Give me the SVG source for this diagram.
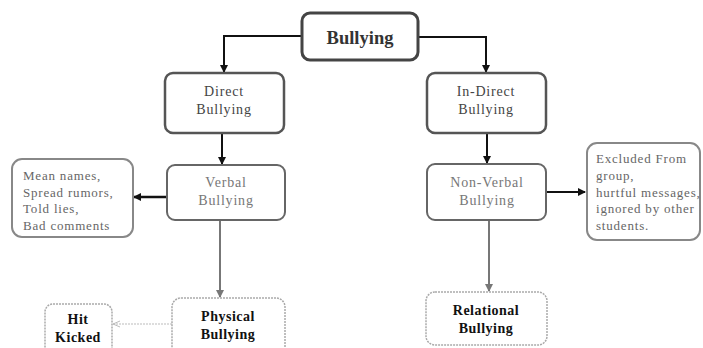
<svg xmlns="http://www.w3.org/2000/svg" width="703" height="348" viewBox="0 0 703 348">
<style>
text{font-family:"Liberation Serif","Times New Roman",serif;}
.c{text-anchor:middle;}
.t1{font-size:18.5px;font-weight:bold;fill:#333;}
.t2{font-size:14px;fill:#444;letter-spacing:0.8px;}
.t3{font-size:14px;fill:#777;letter-spacing:0.8px;}
.t4{font-size:13px;fill:#666;letter-spacing:0.8px;}
.t5{font-size:14px;font-weight:bold;fill:#111;letter-spacing:0.5px;}
.b1{fill:#fff;stroke:#444;stroke-width:3;}
.b2{fill:#fff;stroke:#555;stroke-width:2.5;}
.b3{fill:#fff;stroke:#666;stroke-width:2;}
.b4{fill:#fff;stroke:#888;stroke-width:2;}
.b5{fill:#fff;stroke:#aaa;stroke-width:1.5;stroke-dasharray:2 1;}
.l1{fill:none;stroke:#111;stroke-width:2;}
.l2{fill:none;stroke:#777;stroke-width:2;}
.l3{fill:none;stroke:#bbb;stroke-width:1;stroke-dasharray:2 1;}
</style>
<defs>
<marker id="a1" markerWidth="8" markerHeight="8" refX="7" refY="4" orient="auto" markerUnits="userSpaceOnUse"><path d="M0,0 L8,4 L0,8 Z" fill="#111"/></marker>
<marker id="a2" markerWidth="8" markerHeight="8" refX="7" refY="4" orient="auto" markerUnits="userSpaceOnUse"><path d="M0,0 L8,4 L0,8 Z" fill="#777"/></marker>
<marker id="a3" markerWidth="8" markerHeight="8" refX="7" refY="4" orient="auto" markerUnits="userSpaceOnUse"><path d="M0,1 L7,4 L0,7" fill="none" stroke="#bbb"/></marker>
</defs>
<g id="connectors">
<path class="l1" d="M301,36 H224 V72" marker-end="url(#a1)"/>
<path class="l1" d="M418,37 H486 V72" marker-end="url(#a1)"/>
<path class="l1" d="M222,133 V164" marker-end="url(#a1)"/>
<path class="l1" d="M487,133 V163" marker-end="url(#a1)"/>
<path class="l1" d="M167,197 H134" marker-end="url(#a1)" style="stroke-width:2.5"/>
<path class="l1" d="M547,192 H585" marker-end="url(#a1)"/>
<path class="l2" d="M220,221 V297" marker-end="url(#a2)"/>
<path class="l2" d="M489,221 V291" marker-end="url(#a2)"/>
<path class="l3" d="M172,324 H113" marker-end="url(#a3)"/>
</g>
<g id="bullying">
<rect class="b1" x="302" y="13" width="116" height="47" rx="8"/>
<text class="c t1" x="360" y="44">Bullying</text>
</g>
<g id="direct">
<rect class="b2" x="165" y="73" width="119" height="60" rx="8"/>
<text class="c t2" x="224" y="96">Direct</text>
<text class="c t2" x="224" y="114">Bullying</text>
</g>
<g id="indirect">
<rect class="b2" x="427" y="73" width="119" height="60" rx="8"/>
<text class="c t2" x="486" y="96">In-Direct</text>
<text class="c t2" x="486" y="114">Bullying</text>
</g>
<g id="verbal">
<rect class="b3" x="167" y="165" width="118" height="55" rx="8"/>
<text class="c t3" x="226" y="187">Verbal</text>
<text class="c t3" x="226" y="205">Bullying</text>
</g>
<g id="nonverbal">
<rect class="b3" x="427" y="164" width="119" height="56" rx="8"/>
<text class="c t3" x="487" y="187">Non-Verbal</text>
<text class="c t3" x="487" y="205">Bullying</text>
</g>
<g id="verbal-examples">
<rect class="b4" x="12" y="159" width="121" height="78" rx="10"/>
<text class="t4" x="23" y="180">Mean names,</text>
<text class="t4" x="23" y="197">Spread rumors,</text>
<text class="t4" x="23" y="213">Told lies,</text>
<text class="t4" x="23" y="230">Bad comments</text>
</g>
<g id="nonverbal-examples">
<rect class="b4" x="587" y="143" width="113" height="97" rx="10"/>
<text class="t4" x="596" y="163">Excluded From</text>
<text class="t4" x="596" y="180">group,</text>
<text class="t4" x="596" y="197">hurtful messages,</text>
<text class="t4" x="596" y="213">ignored by other</text>
<text class="t4" x="596" y="230">students.</text>
</g>
<g id="physical">
<rect class="b5" x="172" y="298" width="113" height="60" rx="9"/>
<text class="c t5" x="228" y="321">Physical</text>
<text class="c t5" x="228" y="339">Bullying</text>
</g>
<g id="hit">
<rect class="b5" x="45" y="304" width="67" height="54" rx="8"/>
<text class="c t5" x="78" y="324">Hit</text>
<text class="c t5" x="78" y="342">Kicked</text>
</g>
<g id="relational">
<rect class="b5" x="426" y="292" width="121" height="53" rx="9"/>
<text class="c t5" x="486" y="315">Relational</text>
<text class="c t5" x="486" y="333">Bullying</text>
</g>
</svg>
